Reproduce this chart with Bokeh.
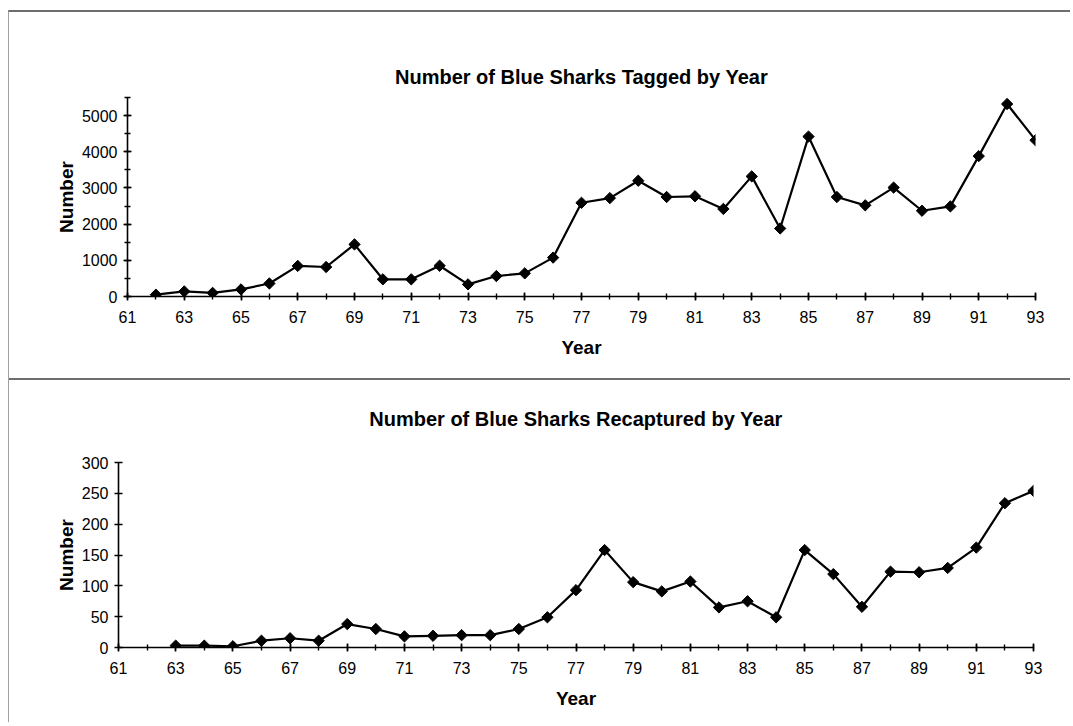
from bokeh.plotting import figure
from bokeh.models import Range1d, FixedTicker
from bokeh.embed import file_html
from bokeh.resources import INLINE
import numpy as np

# ---- data ----
tag_years = list(range(62, 94))
tagged = [50, 140, 100, 195, 360, 845, 815, 1440, 475, 475, 850, 335, 565, 640,
          1075, 2590, 2720, 3200, 2750, 2770, 2420, 3320, 1880, 4420, 2750, 2520,
          3010, 2370, 2490, 3880, 5320, 4320]

recap_years = list(range(63, 94))
recaptured = [3, 3, 2, 11, 15, 11, 38, 30, 18, 19, 20, 20, 30, 49, 93, 158, 106,
              91, 107, 65, 75, 49, 158, 119, 66, 123, 122, 129, 162, 234, 254]

x_major = list(range(61, 94, 2))
x_minor = list(range(61, 94))
top_major = [0, 1000, 2000, 3000, 4000, 5000]
top_minor = list(range(0, 5501, 500))
bot_major = [0, 50, 100, 150, 200, 250, 300]

titles = ["Number of Blue Sharks Tagged by Year",
          "Number of Blue Sharks Recaptured by Year"]

FONT = "Liberation Sans"


def style(p, title_standoff, ymaj, ymin):
    p.title.text_font = FONT
    p.title.text_font_size = "20px"
    p.title.text_font_style = "bold"
    p.title.text_color = "black"
    p.title.align = "center"
    p.title.standoff = title_standoff
    p.xgrid.visible = False
    p.ygrid.visible = False
    p.outline_line_color = None
    p.xaxis.ticker = FixedTicker(ticks=x_major, minor_ticks=x_minor)
    p.yaxis.ticker = FixedTicker(ticks=ymaj, minor_ticks=ymin)
    for ax in (p.xaxis[0], p.yaxis[0]):
        ax.axis_line_color = "black"
        ax.axis_line_width = 1.6
        ax.major_tick_line_color = "black"
        ax.major_tick_line_width = 1.6
        ax.minor_tick_line_color = "black"
        ax.minor_tick_line_width = 1.4
        ax.major_tick_in = 4
        ax.major_tick_out = 4
        ax.minor_tick_in = 3
        ax.minor_tick_out = 3
        ax.major_label_text_font = FONT
        ax.major_label_text_font_size = "16px"
        ax.major_label_text_color = "black"
        ax.axis_label_text_font = FONT
        ax.axis_label_text_font_size = "19px"
        ax.axis_label_text_font_style = "bold"
        ax.axis_label_text_color = "black"
    p.xaxis.axis_label = "Year"
    p.yaxis.axis_label = "Number"
    p.xaxis.major_label_standoff = 10
    p.xaxis.axis_label_standoff = 11
    p.yaxis.major_label_standoff = 6
    p.yaxis.axis_label_standoff = 2


# ---- top chart (panel with a grey frame line on top, left and bottom) ----
p1 = figure(width=1062, height=370, title=titles[0], output_backend="svg",
            toolbar_location=None, x_range=Range1d(61, 93), y_range=Range1d(0, 5500),
            min_border_left=118, min_border_right=36, min_border_top=85,
            min_border_bottom=86, border_fill_color=None, background_fill_color=None)
style(p1, 19, top_major, top_minor)
p1.line(tag_years, tagged, line_color="black", line_width=2.2)
p1.scatter(tag_years, tagged, marker="square", angle=np.pi / 4, size=8,
           fill_color="black", line_color="black")
p1.styles = {"margin-left": "8px", "margin-top": "10px",
             "border-top": "2px solid #6e6e6e", "border-left": "1px solid #a0a0a0",
             "border-bottom": "2px solid #6e6e6e", "border-right": "none"}

# ---- bottom chart (transparent, overlaps the lower edge of the top panel) ----
p2 = figure(width=1062, height=350, title=titles[1], output_backend="svg",
            toolbar_location=None, x_range=Range1d(61, 93), y_range=Range1d(0, 300),
            min_border_left=109, min_border_right=38, min_border_top=90,
            min_border_bottom=75, border_fill_color=None, background_fill_color=None)
style(p2, 65, bot_major, [])
p2.yaxis.minor_tick_in = 0
p2.yaxis.minor_tick_out = 0
p2.line(recap_years, recaptured, line_color="black", line_width=2.2)
p2.scatter(recap_years, recaptured, marker="square", angle=np.pi / 4, size=8,
           fill_color="black", line_color="black")
p2.styles = {"margin-left": "8px", "margin-top": "-8px",
             "border-left": "1px solid #a0a0a0", "border-right": "none"}

open("out.html", "w").write(file_html([p1, p2], INLINE))
